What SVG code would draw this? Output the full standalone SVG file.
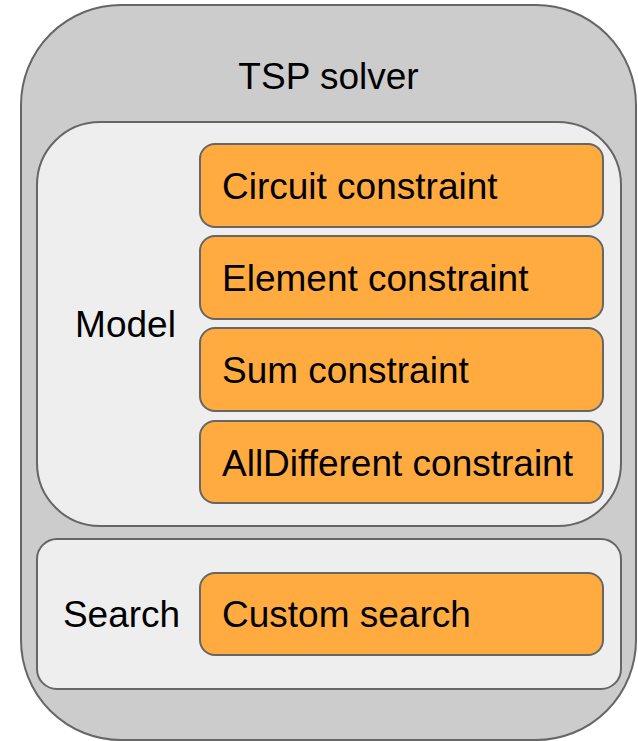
<svg xmlns="http://www.w3.org/2000/svg" width="638" height="741" viewBox="0 0 638 741">
<style>
.panel{stroke:#666666;stroke-width:2}
.outer{fill:#cccccc}
.inner{fill:#eeeeee}
.box{fill:#ffab40;stroke:#666666;stroke-width:2}
text{font-family:"Liberation Sans",Arial,sans-serif;font-size:37px;fill:#000000}
</style>
<rect width="638" height="741" fill="#ffffff"/>
<g id="tsp-solver">
<rect class="panel outer" x="21" y="5" width="615" height="735" rx="100" ry="100"/>
<text x="328.5" y="89" text-anchor="middle">TSP solver</text>
</g>
<g id="model">
<rect class="panel inner" x="37" y="122" width="584" height="404" rx="63" ry="63"/>
<text x="125.5" y="337" text-anchor="middle">Model</text>
</g>
<g id="search">
<rect class="panel inner" x="37" y="539" width="584" height="150" rx="20" ry="20"/>
<text x="121.5" y="627" text-anchor="middle">Search</text>
</g>
<g id="circuit">
<rect class="box" x="200" y="144" width="403" height="83" rx="15" ry="15"/>
<text x="222" y="199">Circuit constraint</text>
</g>
<g id="element">
<rect class="box" x="200" y="236" width="403" height="83" rx="15" ry="15"/>
<text x="222" y="291">Element constraint</text>
</g>
<g id="sum">
<rect class="box" x="200" y="328" width="403" height="83" rx="15" ry="15"/>
<text x="222" y="383">Sum constraint</text>
</g>
<g id="alldifferent">
<rect class="box" x="200" y="421" width="403" height="82" rx="15" ry="15"/>
<text x="222" y="475.5">AllDifferent constraint</text>
</g>
<g id="custom-search">
<rect class="box" x="200" y="573" width="403" height="82" rx="15" ry="15"/>
<text x="222" y="627">Custom search</text>
</g>
<g id="connectors"></g>
</svg>
